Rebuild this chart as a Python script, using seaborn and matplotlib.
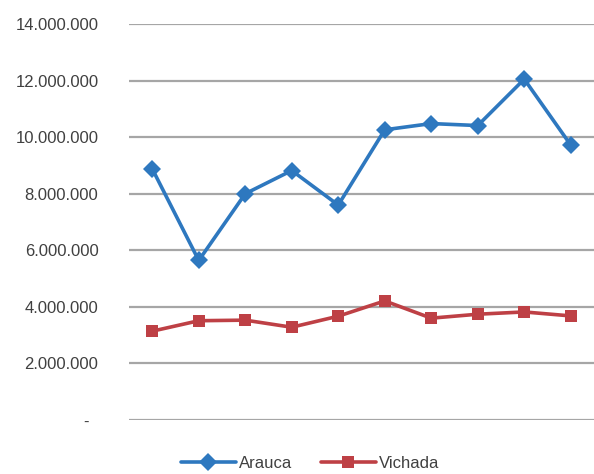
import pandas as pd
import seaborn as sns
import matplotlib.pyplot as plt
from matplotlib.lines import Line2D
from matplotlib.ticker import FuncFormatter, MultipleLocator

# --- datos ---
periodos = list(range(1, 11))
arauca = [8880000, 5640000, 8000000, 8820000, 7600000,
          10260000, 10480000, 10410000, 12050000, 9720000]
vichada = [3140000, 3510000, 3530000, 3280000, 3670000,
           4210000, 3600000, 3740000, 3820000, 3680000]

azul = "#2E78BF"
rojo = "#BE4045"

df = pd.DataFrame({"periodo": periodos * 2,
                   "valor": arauca + vichada,
                   "serie": ["Arauca"] * 10 + ["Vichada"] * 10})

sns.set_style("white")
plt.rcParams["font.family"] = ["Liberation Sans", "DejaVu Sans"]

fig = plt.figure(figsize=(5.94, 4.74), dpi=100)
ax = fig.add_axes([129 / 594, 1 - 420 / 474, 1 - 129 / 594, (420 - 24) / 474])

sns.lineplot(data=df, x="periodo", y="valor", hue="serie", style="serie",
             palette=[azul, rojo], markers=["D", "s"], dashes=False,
             linewidth=2.6, markersize=9, markeredgewidth=0,
             ax=ax, legend=False)

ax.set_xlim(0.5, 10.5)
ax.set_ylim(0, 14000000)
ax.yaxis.set_major_locator(MultipleLocator(2000000))

def fmt(v, pos):
    if v == 0:
        return "-  "
    return f"{int(v):,}".replace(",", ".")

ax.yaxis.set_major_formatter(FuncFormatter(fmt))
ax.grid(axis="y", color="#A6A6A6", linewidth=1.6)
ax.set_axisbelow(True)
ax.set_xticks([])
ax.set_xlabel("")
ax.set_ylabel("")
for s in ax.spines.values():
    s.set_visible(False)
ax.tick_params(axis="y", length=0, pad=22, labelsize=12, labelcolor="#404040")

# leyenda
h = [Line2D([], [], color=azul, marker="D", linewidth=2.6, markersize=9, markeredgewidth=0),
     Line2D([], [], color=rojo, marker="s", linewidth=2.6, markersize=9, markeredgewidth=0)]
fig.legend(h, ["Arauca", "Vichada"], loc="center", bbox_to_anchor=(310 / 594, 1 - 463 / 474),
           ncol=2, frameon=False, handlelength=3.3, handletextpad=0.2, columnspacing=1.7,
           prop={"size": 12}, labelcolor="#404040")

plt.savefig("out.png", dpi=100)
